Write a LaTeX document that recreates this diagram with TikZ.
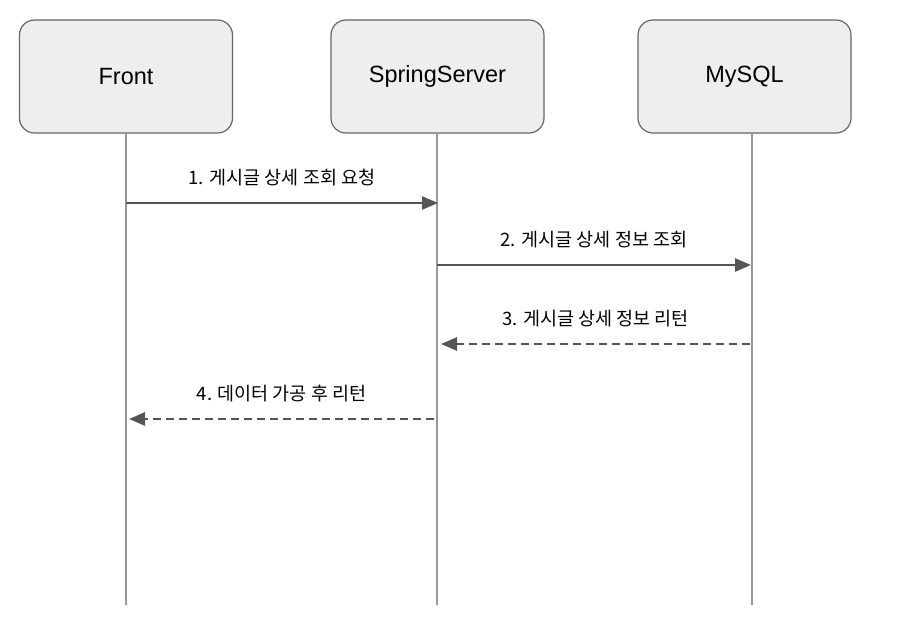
\documentclass[tikz,border=0pt]{standalone}
\usepackage{fontspec}
\setmainfont{Liberation Sans}
\newfontfamily\krfont{Noto Sans CJK KR}
\usetikzlibrary{arrows.meta}
\definecolor{boxfill}{HTML}{EEEEEE}
\definecolor{boxline}{HTML}{666666}
\definecolor{lifeline}{HTML}{999999}
\definecolor{msgline}{HTML}{555555}
\tikzset{
  actor/.style={draw=boxline, line width=1.2pt, fill=boxfill, rounded corners=15pt,
    minimum width=213pt, minimum height=113pt, font=\fontsize{23.5}{28}\selectfont},
  life/.style={draw=lifeline, line width=1.3pt},
  msg/.style={draw=msgline, line width=2.7pt, -{Triangle[length=16pt,width=13pt]}},
  reply/.style={msg, dash pattern=on 8pt off 5pt},
  msglabel/.style={font=\krfont\fontsize{18.5}{22}\selectfont, inner sep=0pt}
}
\begin{document}
\begin{tikzpicture}[x=1pt,y=-1pt]
  \useasboundingbox (0,0) rectangle (914,631);
  \node [actor] (front) at (126, 76.5) {Front};
  \node [actor] (spring) at (437.5, 76.5) {SpringServer};
  \node [actor] (mysql) at (744.5, 76.5) {MySQL};
  \coordinate (frontend) at (126, 605);
  \coordinate (springend) at (437, 605);
  \coordinate (mysqlend) at (752, 605);
  \draw [life] (front.south) -- (frontend);
  \draw [life] (spring.south -| springend) -- (springend);
  \draw [life] (mysql.south -| mysqlend) -- (mysqlend);
  % messages
  \coordinate (m1a) at (126, 203);
  \coordinate (m1b) at (438, 203);
  \coordinate (m2a) at (437, 265);
  \coordinate (m2b) at (751, 265);
  \coordinate (m3a) at (750, 344);
  \coordinate (m3b) at (441, 344);
  \coordinate (m4a) at (434, 419);
  \coordinate (m4b) at (129, 419);
  \draw [msg] (m1a) -- (m1b) node [msglabel, midway, above=16pt] {1. 게시글 상세 조회 요청};
  \draw [msg] (m2a) -- (m2b) node [msglabel, midway, above=16pt] {2. 게시글 상세 정보 조회};
  \draw [reply] (m3a) -- (m3b) node [msglabel, midway, above=16pt] {3. 게시글 상세 정보 리턴};
  \draw [reply] (m4a) -- (m4b) node [msglabel, midway, above=16pt] {4. 데이터 가공 후 리턴};
\end{tikzpicture}
\end{document}
